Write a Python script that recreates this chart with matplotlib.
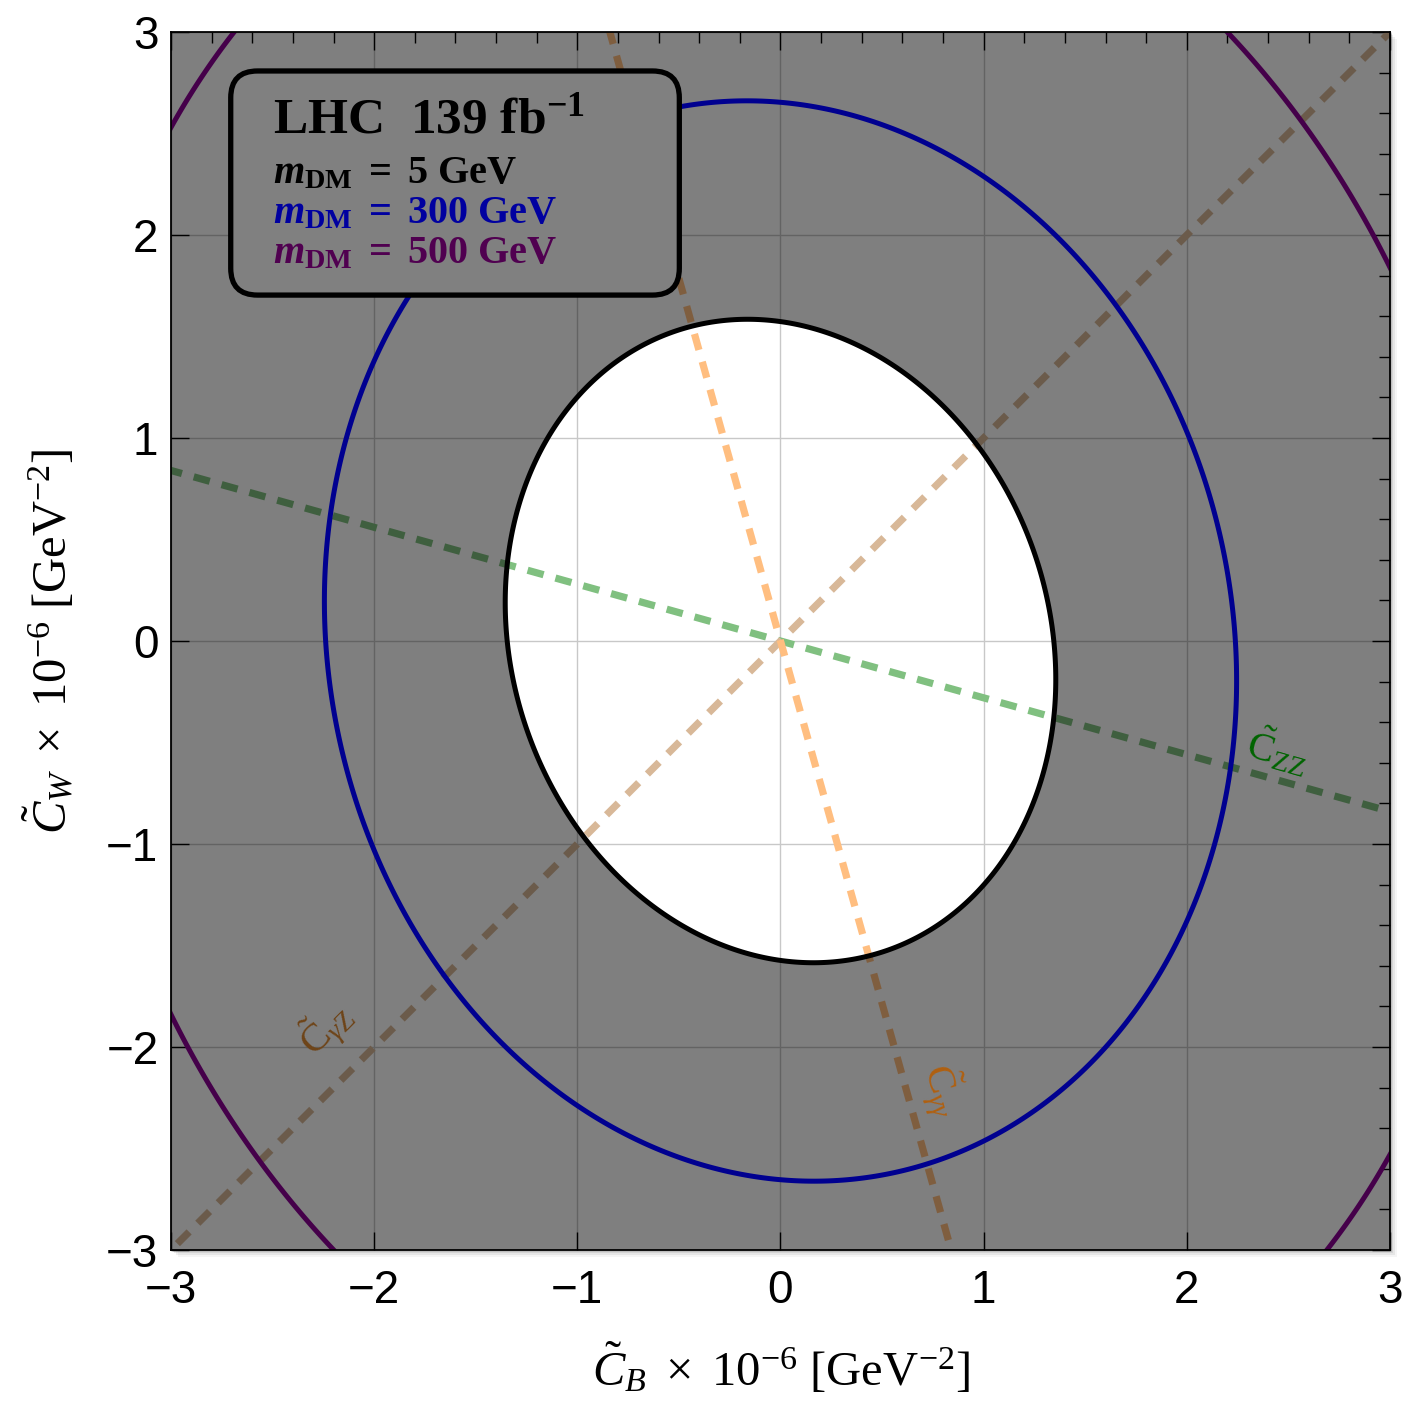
import numpy as np
import matplotlib.pyplot as plt
import matplotlib.ticker as ticker
from matplotlib.patches import FancyBboxPatch, Rectangle

plt.rcParams['mathtext.fontset'] = 'custom'
plt.rcParams['mathtext.rm'] = 'Liberation Serif'
plt.rcParams['mathtext.it'] = 'Liberation Serif:italic'
plt.rcParams['mathtext.bf'] = 'Liberation Serif:bold'
plt.rcParams['mathtext.bfit'] = 'Liberation Serif:bold:italic'

# quadratic form a*x^2 + 2*b*x*y + c*y^2 = 1 for each DM mass
masses = ['5', '300', '500']
quad_a = [0.5526, 0.1995, 0.08126]
quad_b = [0.0565, 0.0124, 0.00664]
quad_c = [0.4039, 0.1420, 0.05772]
mass_colors = ['black', '#000090', '#45004a']

# operator directions in the (C_B, C_W) plane
op_names = [r'$\tilde{\mathrm{C}}_{\mathrm{ZZ}}$', r'$\tilde{\mathrm{C}}_{\gamma \mathrm{Z}}$',
            r'$\tilde{\mathrm{C}}_{\gamma\gamma}$']
op_dx = [1.0, 1.0, -0.28]
op_dy = [-0.28, 1.0, 1.0]
op_line_colors = ['#80c080', '#d8b898', '#ffbe80']
op_text_colors = ['#006400', '#6e4418', '#b06010']
op_label_x = [2.45, -2.24, 0.80]
op_label_y = [-0.54, -1.91, -2.21]
op_label_rot = [-16, 45, -74]

ticks = [-3, -2, -1, 0, 1, 2, 3]

fig = plt.figure(figsize=(14.06, 14.06), dpi=100)

# soft drop shadow behind the frame
for k, al in enumerate([0.10, 0.08, 0.06, 0.04]):
    off = 0.0012 * (k + 1)
    fig.patches.append(Rectangle((0.12162 + off, 0.11095 - off), 0.86700, 0.86629,
                                 transform=fig.transFigure, fc='black', ec='none',
                                 alpha=al, zorder=-5))

ax = fig.add_axes([0.12162, 0.11095, 0.86700, 0.86629])
ax.set_facecolor('white')

xs = np.linspace(-3.5, 3.5, 1401)
X, Y = np.meshgrid(xs, xs)

def qform(i):
    return quad_a[i] * X**2 + 2 * quad_b[i] * X * Y + quad_c[i] * Y**2

# grid under everything
for t in ticks:
    ax.axvline(t, color='#c8c8c8', lw=1.0, zorder=1)
    ax.axhline(t, color='#c8c8c8', lw=1.0, zorder=1)

# dashed operator directions
tt = np.array([-10.0, 10.0])
for i in range(3):
    ax.plot(tt * op_dx[i], tt * op_dy[i], color=op_line_colors[i], lw=5.2,
            dashes=(2.3, 1.7), dash_capstyle='butt', zorder=2)

# excluded region outside the 5 GeV contour
Q0 = qform(0)
ax.contourf(X, Y, Q0, levels=[1, Q0.max() + 1], colors='black', alpha=0.5,
            zorder=3)

for i in range(3):
    ax.contour(X, Y, qform(i), levels=[1], colors=mass_colors[i],
               linewidths=3.6, zorder=4)

for i in range(3):
    ax.text(op_label_x[i], op_label_y[i], op_names[i], color=op_text_colors[i],
            fontsize=29, rotation=op_label_rot[i], ha='center', va='center',
            rotation_mode='anchor', zorder=5)

# legend box
box = FancyBboxPatch((0.049, 0.784), 0.368, 0.184,
                     boxstyle='round,pad=0,rounding_size=0.022',
                     transform=ax.transAxes, fc='#808080', ec='black', lw=3.8,
                     zorder=6)
ax.add_patch(box)
ax.text(0.0837, 0.917, r'LHC  139 fb$^{\mathbf{-1}}$', transform=ax.transAxes,
        fontsize=37, family='Liberation Serif', weight='bold', va='baseline',
        zorder=7)
leg_y = [0.876, 0.843, 0.810]
leg_colors = ['black', '#0000a0', '#500050']
for i in range(3):
    ax.text(0.0837, leg_y[i], r'$\mathbfit{m}_{\mathbf{DM}}$ $\mathbf{=}$ ' + masses[i] + ' GeV',
            transform=ax.transAxes, fontsize=29, family='Liberation Serif',
            weight='bold', color=leg_colors[i], va='baseline', zorder=7)

ax.set_xlim(-3, 3)
ax.set_ylim(-3, 3)
ax.set_xticks(ticks)
ax.set_yticks(ticks)
ax.xaxis.set_minor_locator(ticker.MultipleLocator(0.2))
ax.yaxis.set_minor_locator(ticker.MultipleLocator(0.2))
ax.tick_params(which='major', direction='in', length=13, width=1.0,
               top=True, right=True, labelsize=33, colors='black')
ax.tick_params(which='minor', direction='in', length=8, width=1.0,
               top=True, right=True, bottom=False, left=False)
ax.tick_params(axis='x', which='major', pad=14)
ax.tick_params(axis='y', which='major', pad=9)
for lab in ax.get_xticklabels() + ax.get_yticklabels():
    lab.set_family('Liberation Sans')
for s in ax.spines.values():
    s.set_linewidth(1.3)
    s.set_zorder(8)

ax.set_xlabel(r'$\tilde{C}_B\ \times\ 10^{-6}\ \mathrm{[GeV^{-2}]}$', fontsize=35)
ax.xaxis.set_label_coords(0.5, -0.075)
ax.set_ylabel(r'$\tilde{C}_W\ \times\ 10^{-6}\ \mathrm{[GeV^{-2}]}$', fontsize=35)
ax.yaxis.set_label_coords(-0.078, 0.5)

fig.savefig('out.png', dpi=100)
